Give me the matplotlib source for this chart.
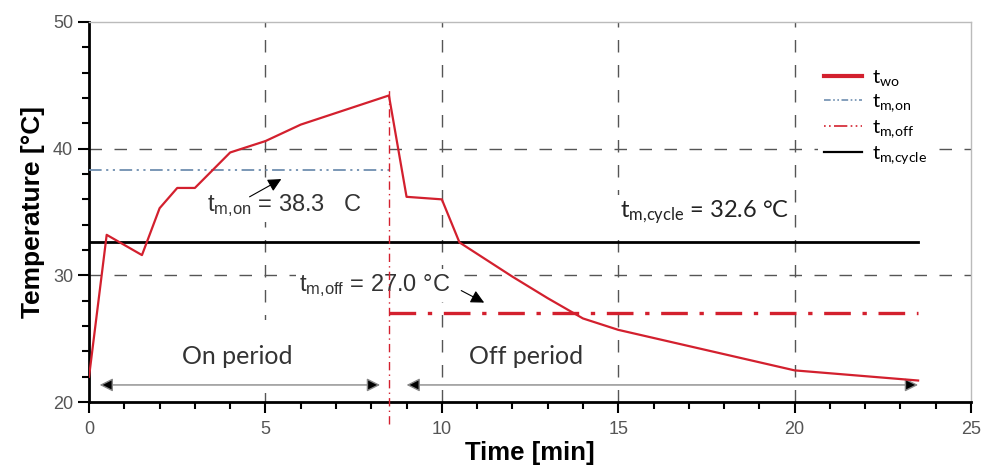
import matplotlib
matplotlib.use("Agg")
import matplotlib.pyplot as plt
from matplotlib.lines import Line2D
from matplotlib.ticker import MultipleLocator

plt.rcParams['font.family'] = ['Liberation Sans', 'DejaVu Sans']
plt.rcParams['mathtext.fontset'] = 'custom'
plt.rcParams['mathtext.rm'] = 'Liberation Sans'
plt.rcParams['mathtext.sf'] = 'Lato'

# ---- data ----
time_min = [0, 0.5, 1.5, 2, 2.5, 3, 4, 5, 6, 8.5, 9, 10, 10.5, 11, 12, 13, 14, 15, 20, 23.5]
t_wo = [22.0, 33.2, 31.6, 35.3, 36.9, 36.9, 39.7, 40.6, 41.9, 44.2, 36.2, 36.0, 32.6, 31.7,
        29.9, 28.2, 26.6, 25.7, 22.5, 21.7]

t_switch = 8.5          # pump switched off
t_end = 23.5            # end of cycle
t_m_on = 38.3
t_m_off = 27.0
t_m_cycle = 32.6

RED = '#d3202e'
BLUE = '#6f8fb0'
ON_STYLE = (0, (7, 2.5, 1.2, 2.5, 1.2, 2.5))
OFF_STYLE = (0, (8, 3.5, 1.3, 3.5))

fig = plt.figure(figsize=(9.85, 4.73), dpi=100)
ax = fig.add_axes([0.0904, 0.150, 0.8954, 0.8035])

# grid only at interior major ticks
for x in [5, 10, 15, 20]:
    ax.plot([x, x], [20, 50], color='#555555', lw=1.0, ls=(0, (9, 9)), zorder=1)
for y in [30, 40]:
    ax.plot([0, 25], [y, y], color='#555555', lw=1.0, ls=(0, (9, 9)), zorder=1)

ax.plot(time_min, t_wo, color=RED, lw=1.6, zorder=4)
ax.plot([0, t_switch], [t_m_on, t_m_on], color=BLUE, lw=1.3, ls=ON_STYLE, zorder=3)
ax.plot([t_switch, t_end], [t_m_off, t_m_off], color=RED, lw=2.4, ls=OFF_STYLE, zorder=3)
ax.plot([0, t_end], [t_m_cycle, t_m_cycle], color='black', lw=2.0, zorder=3)

# on/off switch marker
ax.plot([t_switch, t_switch], [18.3, 44.8], color=RED, lw=1.0,
        ls=(0, (6, 3, 1, 3)), zorder=3, clip_on=False)

ax.set_xlim(0, 25)
ax.set_ylim(20, 50)
ax.xaxis.set_major_locator(MultipleLocator(5))
ax.xaxis.set_minor_locator(MultipleLocator(1))
ax.yaxis.set_major_locator(MultipleLocator(10))
ax.yaxis.set_minor_locator(MultipleLocator(2))
ax.tick_params(which='major', direction='out', length=8, width=1.5, labelsize=13,
               labelcolor='#555555', color='black')
ax.tick_params(which='minor', direction='out', length=5, width=1.5, color='black')
ax.tick_params(axis='x', pad=6)

for side in ['left', 'bottom']:
    ax.spines[side].set_linewidth(2.0)
    ax.spines[side].set_color('black')
for side in ['top', 'right']:
    ax.spines[side].set_linewidth(1.0)
    ax.spines[side].set_color('#bbbbbb')

ax.set_xlabel('Time [min]', fontsize=18.5, fontweight='bold', labelpad=2)
ax.set_ylabel('Temperature [°C]', fontsize=19, fontweight='bold', labelpad=6)

white = dict(facecolor='white', edgecolor='none', pad=2)
pointer = dict(arrowstyle='-|>', color='black', lw=0.8, mutation_scale=20,
               shrinkA=0, shrinkB=0)

# mean value labels
ax.text(5.55, 35.5, r'$\mathrm{t_{m{,}on}}$ = 38.3   C', fontsize=17, color='#333333',
        ha='center', va='center', zorder=2, bbox=white)
ax.annotate('', xy=(5.45, 37.6), xytext=(4.55, 36.2), zorder=3, arrowprops=pointer)

ax.text(8.1, 29.2, r'$\mathrm{t_{m{,}off}}$ = 27.0 °C', fontsize=17, color='#333333',
        ha='center', va='center', zorder=2, bbox=white)
ax.annotate('', xy=(11.2, 27.85), xytext=(10.55, 28.8), zorder=3, arrowprops=pointer)

ax.text(17.45, 35.0, r'$\mathsf{t_{m{,}cycle}}$ = 32.6 °C', fontsize=17, family='Lato',
        color='#222222', ha='center', va='center', zorder=2, bbox=white)

# period arrows
span = dict(arrowstyle='<|-|>', fc='black', ec='#888888', lw=1.0,
            mutation_scale=20, shrinkA=0, shrinkB=0)
ax.annotate('', xy=(0.3, 21.35), xytext=(8.25, 21.35), zorder=3, arrowprops=span)
ax.annotate('', xy=(9.0, 21.35), xytext=(23.5, 21.35), zorder=3, arrowprops=span)
ax.text(4.2, 23.6, 'On period', fontsize=18, family='Lato', color='#333333',
        ha='center', va='center', zorder=2,
        bbox=dict(facecolor='white', edgecolor='none', boxstyle='square,pad=1.0'))
ax.text(12.4, 23.6, 'Off period', fontsize=18, family='Lato', color='#333333',
        ha='center', va='center', zorder=2,
        bbox=dict(facecolor='white', edgecolor='none', boxstyle='square,pad=0.2'))

handles = [
    Line2D([], [], color=RED, lw=3.0),
    Line2D([], [], color=BLUE, lw=1.2, ls=(0, (4, 1.5, 1, 1.5, 1, 1.5))),
    Line2D([], [], color=RED, lw=1.2, ls=(0, (1, 2, 1, 2, 8, 2))),
    Line2D([], [], color='black', lw=1.6),
]
labels = [r'$\mathsf{t_{wo}}$', r'$\mathsf{t_{m{,}on}}$', r'$\mathsf{t_{m{,}off}}$',
          r'$\mathsf{t_{m{,}cycle}}$']
leg = ax.legend(handles, labels, loc='upper left',
                bbox_to_anchor=(808 / 985, 1 - 52 / 473),
                bbox_transform=fig.transFigure, fontsize=14.5, frameon=True,
                facecolor='white', edgecolor='none', framealpha=1.0,
                handlelength=1.9, labelspacing=0.2, handletextpad=0.5,
                borderpad=0.3)
leg.set_zorder(5)

fig.savefig('out.png', dpi=100)
